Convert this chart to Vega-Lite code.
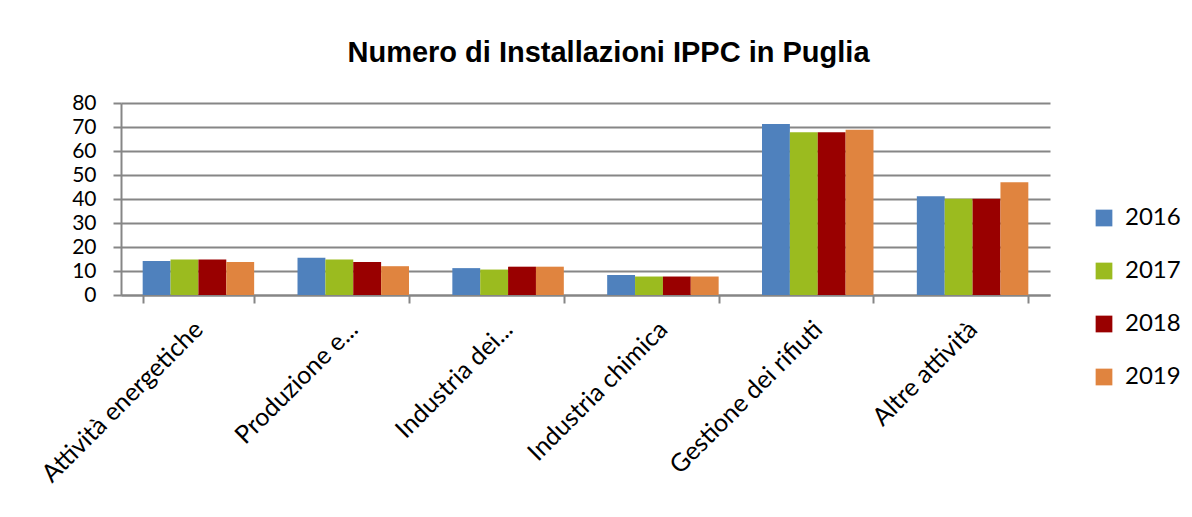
{
  "$schema": "https://vega.github.io/schema/vega-lite/v6.json",
  "width": 929,
  "height": 192,
  "autosize": "none",
  "padding": {"left": 121, "top": 103, "right": 142, "bottom": 222},
  "background": "white",
  "title": {
    "text": "Numero di Installazioni IPPC in Puglia",
    "font": "Liberation Sans",
    "fontSize": 29,
    "fontWeight": "bold",
    "color": "#000000",
    "anchor": "middle",
    "dx": 23,
    "offset": 24
  },
  "data": {
    "values": [
      {"categoria": "Attività energetiche", "anno": "2016", "valore": 14.2},
      {"categoria": "Attività energetiche", "anno": "2017", "valore": 14.8},
      {"categoria": "Attività energetiche", "anno": "2018", "valore": 14.8},
      {"categoria": "Attività energetiche", "anno": "2019", "valore": 13.7},
      {"categoria": "Produzione e...", "anno": "2016", "valore": 15.5},
      {"categoria": "Produzione e...", "anno": "2017", "valore": 14.8},
      {"categoria": "Produzione e...", "anno": "2018", "valore": 13.7},
      {"categoria": "Produzione e...", "anno": "2019", "valore": 12},
      {"categoria": "Industria dei...", "anno": "2016", "valore": 11.2},
      {"categoria": "Industria dei...", "anno": "2017", "valore": 10.6},
      {"categoria": "Industria dei...", "anno": "2018", "valore": 11.8},
      {"categoria": "Industria dei...", "anno": "2019", "valore": 11.8},
      {"categoria": "Industria chimica", "anno": "2016", "valore": 8.3},
      {"categoria": "Industria chimica", "anno": "2017", "valore": 7.7},
      {"categoria": "Industria chimica", "anno": "2018", "valore": 7.7},
      {"categoria": "Industria chimica", "anno": "2019", "valore": 7.7},
      {"categoria": "Gestione dei rifiuti", "anno": "2016", "valore": 71.3},
      {"categoria": "Gestione dei rifiuti", "anno": "2017", "valore": 67.8},
      {"categoria": "Gestione dei rifiuti", "anno": "2018", "valore": 67.8},
      {"categoria": "Gestione dei rifiuti", "anno": "2019", "valore": 68.9},
      {"categoria": "Altre attività", "anno": "2016", "valore": 41.1},
      {"categoria": "Altre attività", "anno": "2017", "valore": 40.1},
      {"categoria": "Altre attività", "anno": "2018", "valore": 40.1},
      {"categoria": "Altre attività", "anno": "2019", "valore": 47.0}
    ]
  },
  "mark": {"type": "bar"},
  "encoding": {
    "x": {
      "field": "categoria",
      "type": "nominal",
      "sort": null,
      "title": null,
      "scale": {"paddingInner": 0.28, "paddingOuter": 0.14},
      "axis": {
        "labelAngle": -45,
        "labelAlign": "right",
        "labelBaseline": "middle",
        "labelFont": "Lato",
        "labelFontSize": 25,
        "labelColor": "#000000",
        "labelPadding": 22,
        "labelLimit": 400,
        "tickBand": "extent",
        "tickColor": "#868686",
        "tickWidth": 2,
        "tickSize": 8,
        "domainColor": "#868686",
        "domainWidth": 2
      }
    },
    "xOffset": {"field": "anno", "type": "nominal", "scale": {"paddingInner": 0, "paddingOuter": 0}},
    "y": {
      "field": "valore",
      "type": "quantitative",
      "title": null,
      "scale": {"domain": [0, 80], "nice": false},
      "axis": {
        "values": [0, 10, 20, 30, 40, 50, 60, 70, 80],
        "labelFont": "Lato",
        "labelFontSize": 21,
        "labelColor": "#000000",
        "labelPadding": 17,
        "grid": true,
        "gridColor": "#868686",
        "gridWidth": 2,
        "tickColor": "#868686",
        "tickWidth": 2,
        "tickSize": 8,
        "domainColor": "#868686",
        "domainWidth": 2
      }
    },
    "color": {
      "field": "anno",
      "type": "nominal",
      "title": null,
      "scale": {"domain": ["2016", "2017", "2018", "2019"], "range": ["#4f81bd", "#9bbb1f", "#990000", "#e0843f"]},
      "legend": {
        "orient": "none",
        "legendX": 971,
        "legendY": 103,
        "symbolType": "square",
        "symbolSize": 280,
        "symbolStrokeWidth": 0,
        "labelFont": "Lato",
        "labelFontSize": 24,
        "labelColor": "#000000",
        "rowPadding": 29,
        "labelOffset": 9
      }
    }
  },
  "config": {"view": {"stroke": null}}
}
